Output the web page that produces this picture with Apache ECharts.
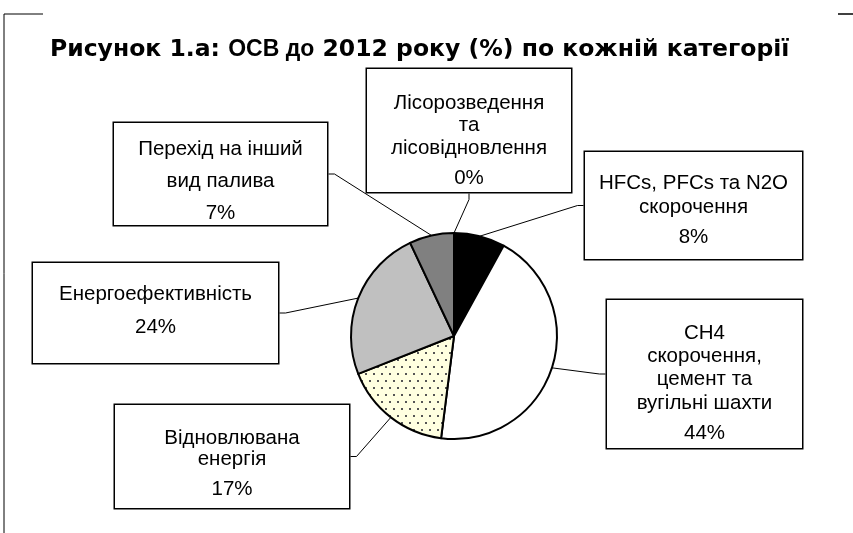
<!DOCTYPE html>
<html>
<head>
<meta charset="utf-8">
<script src="https://cdn.jsdelivr.net/npm/echarts/dist/echarts.min.js"></script>
<style>html,body{margin:0;padding:0;background:#fff}#c{width:853px;height:533px}</style>
</head>
<body>
<div id="c"></div>
<script>
// ---- data ----
const categories = [
  'HFCs, PFCs та N2O\nскорочення',
  'CH4\nскорочення,\nцемент та\nвугільні шахти',
  'Відновлювана\nенергія',
  'Енергоефективність',
  'Перехід на інший\nвид палива',
  'Лісорозведення\nта\nлісовідновлення'
];
const values = [8, 44, 17, 24, 7, 0];
const titleParts = ['Рисунок 1.а: ', 'ОСВ до', ' 2012 року (%) по кожній категорії'];

// ---- styles ----
function dotPattern() {
  const c = document.createElement('canvas');
  c.width = 8; c.height = 14;
  const x = c.getContext('2d');
  x.fillStyle = '#FFFFE0'; x.fillRect(0, 0, 8, 14);
  x.fillStyle = '#555'; x.fillRect(1, 2, 2, 2); x.fillRect(5, 9, 2, 2);
  return c;
}
const sliceColors = ['#000000', '#FFFFFF', {image: dotPattern(), repeat: 'repeat'}, '#C0C0C0', '#808080', '#FFFFFF'];

// label boxes: left, right, top, bottom, first-line centre, line step, percent-line centre
const boxes = [
  {L: 585, R: 802, T: 152, B: 259, c1: 183, s: 24,   cp: 237},
  {L: 607, R: 802, T: 300, B: 448, c1: 333, s: 23.3, cp: 433},
  {L: 115, R: 349, T: 405, B: 508, c1: 438, s: 21.5, cp: 489},
  {L: 33,  R: 278, T: 263, B: 363, c1: 294, s: 24,   cp: 327},
  {L: 114, R: 327, T: 123, B: 225, c1: 149, s: 32,   cp: 213},
  {L: 367, R: 571, T: 69,  B: 192, c1: 103, s: 22.5, cp: 178}
];
const PL = 20; // percent line height
const FS = 20.5;

const data = categories.map((name, i) => {
  const b = boxes[i];
  const k = name.split('\n').length;
  const padTop = b.c1 - b.s / 2 - b.T;
  const lastBottom = b.c1 + (k - 1) * b.s + b.s / 2;
  const g = Math.max(0, b.cp - PL / 2 - lastBottom);
  const content = k * b.s + g + PL;
  const padBottom = (b.B - b.T) - padTop - content;
  return {
    name: name,
    value: values[i],
    itemStyle: {color: sliceColors[i]},
    label: {
      formatter: '{n|' + name + '}\n{p|' + values[i] + '%}',
      width: b.R - b.L,
      padding: [padTop, 0, Math.max(0, padBottom), 0],
      rich: {
        n: {fontSize: FS, lineHeight: b.s, fontFamily: 'Liberation Sans', color: '#000', align: 'center'},
        p: {fontSize: FS, lineHeight: PL + g, padding: [g, 0, 0, 0], fontFamily: 'Liberation Sans', color: '#000', align: 'center'}
      }
    }
  };
});

const chart = echarts.init(document.getElementById('c'), null, {renderer: 'canvas'});
chart.setOption({
  backgroundColor: '#fff',
  animation: false,
  title: {
    text: '{a|' + titleParts[0] + '}{b|' + titleParts[1] + '}{a|' + titleParts[2] + '}',
    left: 45, top: 31,
    textStyle: {
      rich: {
        a: {fontFamily: 'DejaVu Sans', fontWeight: 'bold', fontSize: 23.5, color: '#000', lineHeight: 28},
        b: {fontFamily: 'Liberation Sans', fontWeight: 'bold', fontSize: 23, color: '#000', lineHeight: 28}
      }
    }
  },
  graphic: [
    {type: 'line', shape: {x1: 4, y1: 14, x2: 43, y2: 14}, style: {stroke: '#000', lineWidth: 1}},
    {type: 'line', shape: {x1: 4, y1: 14, x2: 4, y2: 533}, style: {stroke: '#000', lineWidth: 1}},
    {type: 'line', shape: {x1: 838, y1: 14, x2: 853, y2: 14}, style: {stroke: '#000', lineWidth: 1.5}}
  ],
  series: [{
    type: 'pie',
    center: [454, 336],
    radius: 103,
    startAngle: 90,
    clockwise: true,
    avoidLabelOverlap: false,
    emphasis: {disabled: true},
    itemStyle: {borderColor: '#000', borderWidth: 2},
    label: {
      show: true,
      position: 'outside',
      backgroundColor: '#fff',
      borderColor: '#000',
      borderWidth: 1.5,
      align: 'center'
    },
    labelLine: {show: true, length: 10, length2: 6, lineStyle: {color: '#000', width: 1}},
    labelLayout: function (params) {
      const b = boxes[params.dataIndex];
      return {x: (b.L + b.R) / 2, y: b.T, align: 'center', verticalAlign: 'top'};
    },
    data: data
  }]
});
</script>
</body>
</html>
